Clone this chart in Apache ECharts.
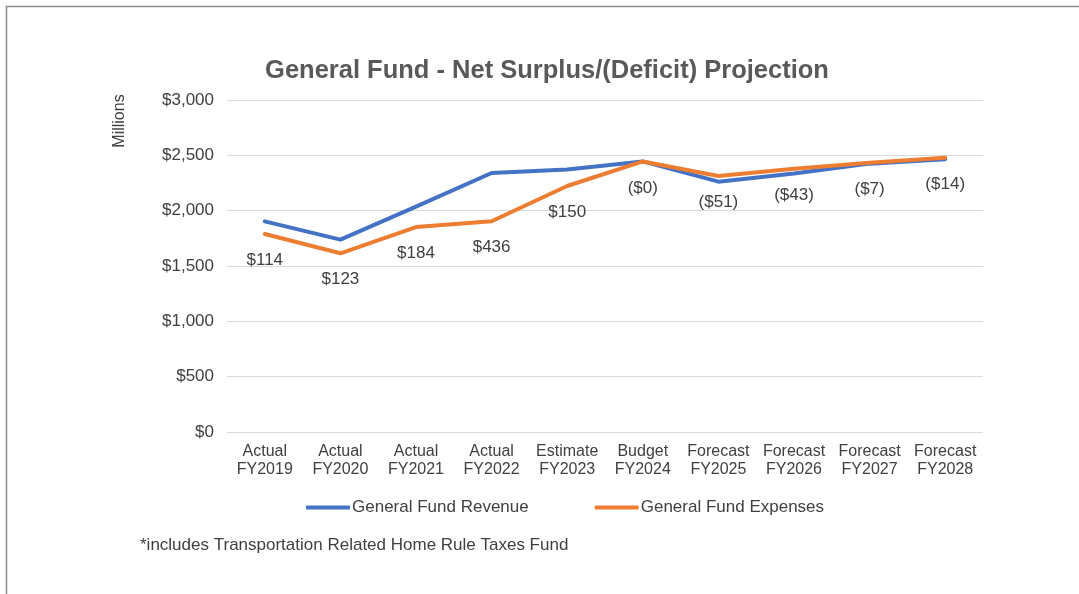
<!DOCTYPE html>
<html>
<head>
<meta charset="utf-8">
<script src="https://cdn.jsdelivr.net/npm/echarts@6/dist/echarts.min.js"></script>
<style>
	html, body { margin: 0; padding: 0; background: #fff; }
	#myChart { width: 1079px; height: 594px; }
</style>
</head>
<body>
<div id="myChart"></div>
<script>
	// fiscal years on the x axis
	var categories = ['Actual\nFY2019', 'Actual\nFY2020', 'Actual\nFY2021', 'Actual\nFY2022', 'Estimate\nFY2023',
		'Budget\nFY2024', 'Forecast\nFY2025', 'Forecast\nFY2026', 'Forecast\nFY2027', 'Forecast\nFY2028'];
	// $ millions
	var revenue = [1903, 1738, 2036, 2340, 2373, 2445, 2262, 2335, 2425, 2465];
	var expenses = [1789, 1615, 1852, 1904, 2223, 2445, 2313, 2378, 2432, 2479];
	// net surplus/(deficit) labels
	var netLabels = ['$114', '$123', '$184', '$436', '$150', '($0)', '($51)', '($43)', '($7)', '($14)'];

	var font = '"Liberation Sans", Arial, sans-serif';
	var myChart = echarts.init(document.getElementById('myChart'));
	var option = {
		backgroundColor: '#fff',
		animation: false,
		textStyle: { fontFamily: font },
		title: {
			text: 'General Fund - Net Surplus/(Deficit) Projection',
			left: 542,
			textAlign: 'center',
			top: 53,
			textStyle: { fontFamily: font, fontSize: 25.5, fontWeight: 'bold', color: '#595959' }
		},
		grid: { left: 227, right: 96, top: 100, bottom: 162 },
		legend: {
			bottom: 73,
			left: 301,
			itemWidth: 44,
			itemHeight: 4,
			itemGap: 66,
			icon: 'roundRect',
			textStyle: { fontFamily: font, fontSize: 17, color: '#404040', padding: [0, 0, 0, -3] },
			data: ['General Fund Revenue', 'General Fund Expenses']
		},
		xAxis: {
			type: 'category',
			data: categories,
			boundaryGap: true,
			axisLine: { show: false },
			axisTick: { show: false },
			axisLabel: { interval: 0, fontSize: 16, color: '#404040', lineHeight: 18, margin: 11, fontFamily: font }
		},
		yAxis: {
			type: 'value',
			min: 0,
			max: 3000,
			interval: 500,
			axisLine: { show: false },
			axisTick: { show: false },
			splitLine: { lineStyle: { color: '#d9d9d9', width: 1 } },
			axisLabel: {
				fontSize: 17, color: '#404040', margin: 13, fontFamily: font,
				formatter: function (v) { return '$' + v.toLocaleString('en-US'); }
			}
		},
		series: [{
			name: 'General Fund Revenue',
			type: 'line',
			data: revenue,
			symbol: 'none',
			lineStyle: { color: '#4472C4', width: 4, cap: 'round', join: 'round' },
			itemStyle: { color: '#4472C4' }
		}, {
			name: 'General Fund Expenses',
			type: 'line',
			data: expenses,
			showSymbol: true,
			symbol: 'circle',
			symbolSize: 0,
			lineStyle: { color: '#ED7D31', width: 4, cap: 'round', join: 'round' },
			itemStyle: { color: '#ED7D31' },
			label: {
				show: true,
				position: 'bottom',
				distance: 18,
				fontSize: 17,
				color: '#404040',
				fontFamily: font,
				formatter: function (p) { return netLabels[p.dataIndex]; }
			}
		}],
		graphic: [{
			type: 'text',
			x: 120,
			y: 121,
			rotation: Math.PI / 2,
			style: { text: 'Millions', font: '16px ' + font, fill: '#404040', align: 'center', verticalAlign: 'middle' }
		}, {
			type: 'text',
			left: 140,
			top: 537,
			style: { text: '*includes Transportation Related Home Rule Taxes Fund', font: '17px ' + font, fill: '#404040' }
		}, {
			type: 'polyline',
			shape: { points: [[6.5, 594], [6.5, 6.5], [1079, 6.5]] },
			style: { stroke: '#8c8c8c', lineWidth: 1.5, fill: null }
		}]
	};
	myChart.setOption(option);
</script>
</body>
</html>
